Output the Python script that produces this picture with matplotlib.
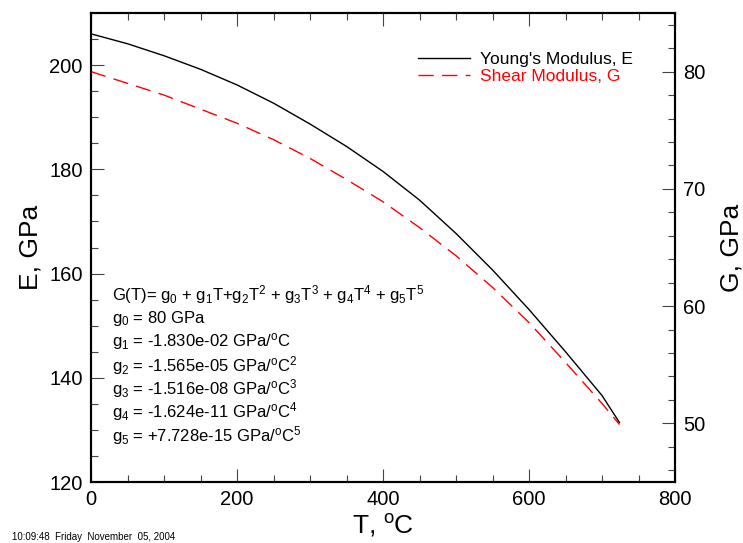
import matplotlib
matplotlib.use('Agg')
import matplotlib.pyplot as plt
from matplotlib.ticker import MultipleLocator

plt.rcParams['font.family'] = ['Liberation Sans', 'DejaVu Sans']
plt.rcParams['mathtext.fontset'] = 'custom'
plt.rcParams['mathtext.rm'] = 'Liberation Sans'
plt.rcParams['mathtext.it'] = 'Liberation Sans'

# values
temps = [0, 50, 100, 150, 200, 250, 300, 350, 400, 450, 500, 550, 600, 650, 700, 724]
young_e = [206.0, 204.1, 201.8, 199.2, 196.2, 192.7, 188.7, 184.4, 179.6, 174.1,
           167.7, 160.7, 153.1, 145.0, 136.6, 131.4]
shear_g = [80.0, 79.0, 78.0, 76.8, 75.6, 74.2, 72.6, 70.8, 68.9, 66.7,
           64.3, 61.6, 58.6, 55.2, 51.7, 49.9]

coef_lines = [
    r'G(T)= g$_0$ + g$_1$T+g$_2$T$^2$ + g$_3$T$^3$ + g$_4$T$^4$ + g$_5$T$^5$',
    r'g$_0$ = 80 GPa',
    r'g$_1$ = -1.830e-02 GPa/$^\mathrm{o}$C',
    r'g$_2$ = -1.565e-05 GPa/$^\mathrm{o}$C$^2$',
    r'g$_3$ = -1.516e-08 GPa/$^\mathrm{o}$C$^3$',
    r'g$_4$ = -1.624e-11 GPa/$^\mathrm{o}$C$^4$',
    r'g$_5$ = +7.728e-15 GPa/$^\mathrm{o}$C$^5$',
]

W, H = 743, 543
fig = plt.figure(figsize=(W / 100, H / 100), dpi=100)
ax = fig.add_axes([91 / W, 1 - 482 / H, (675 - 91) / W, (482 - 13) / H])
ax2 = ax.twinx()

l1, = ax.plot(temps, young_e, color='black', lw=1.0, label="Young's Modulus, E")
l2, = ax2.plot(temps, shear_g, color='red', lw=1.0, dashes=(11, 6),
               label='Shear Modulus, G')

ax.set_xlim(0, 800)
ax.set_ylim(120, 210)
ax2.set_ylim(45, 85)

ax.xaxis.set_major_locator(MultipleLocator(200))
ax.xaxis.set_minor_locator(MultipleLocator(50))
ax.yaxis.set_major_locator(MultipleLocator(20))
ax.yaxis.set_minor_locator(MultipleLocator(5))
ax2.yaxis.set_major_locator(MultipleLocator(10))
ax2.yaxis.set_minor_locator(MultipleLocator(2))

ax.tick_params(axis='x', which='both', direction='in', top=True, bottom=True,
               labelsize=14.5, pad=6, color='#444444')
ax.tick_params(axis='y', which='both', direction='in', left=True, right=False,
               labelsize=14.5, pad=6, color='#444444')
ax2.tick_params(axis='y', which='both', direction='in', right=True,
                labelsize=14.5, pad=6, color='#444444')
for a in (ax, ax2):
    a.tick_params(which='major', length=9.5, width=0.8)
    a.tick_params(which='minor', length=5, width=0.8)
    for s in a.spines.values():
        s.set_linewidth(1.5)

ax.set_xlabel(r'T, $^\mathrm{o}$C', fontsize=19, labelpad=2)
ax.set_ylabel('E, GPa', fontsize=19, labelpad=5)
ax2.set_ylabel('G, GPa', fontsize=19, labelpad=10)

leg = ax.legend(handles=[l1, l2], loc='upper right', bbox_to_anchor=(0.955, 0.95),
                frameon=False, fontsize=12.5, handlelength=3.0, handletextpad=0.6,
                labelspacing=0.1, labelcolor=['black', 'red'])

for i, txt in enumerate(coef_lines):
    ax.text(112 / W, 1 - (295 + i * 23.4) / H, txt, transform=fig.transFigure,
            fontsize=12, va='center', ha='left')

fig.text(12 / W, 1 - 532 / H, '10:09:48  Friday  November  05, 2004',
         fontsize=7, va='top', ha='left')

fig.savefig('out.png', dpi=100)
